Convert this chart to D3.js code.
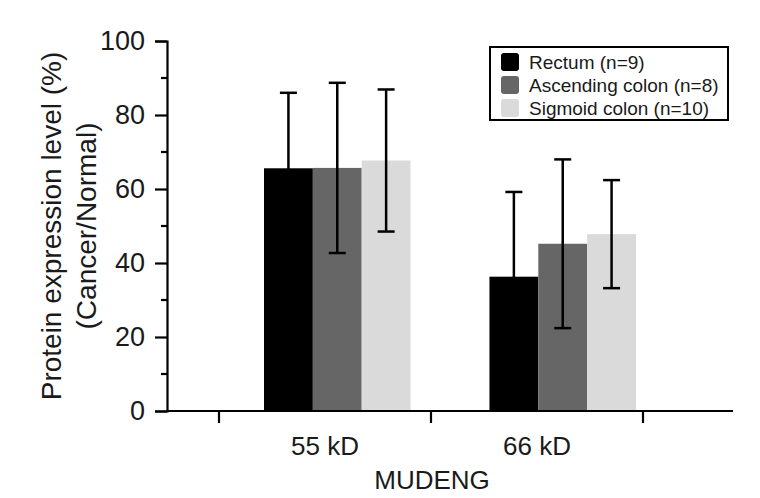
<!DOCTYPE html>
<html>
<head>
<meta charset="utf-8">
<script src="https://cdn.jsdelivr.net/npm/d3@7"></script>
<style>
  html, body { margin: 0; padding: 0; background: #fff; }
  svg { display: block; font-family: "Liberation Sans", Arial, sans-serif; }
</style>
</head>
<body>
<svg id="chart" width="760" height="498"></svg>
<script>
// ---- data ----
const categories = ["55 kD", "66 kD"];
const seriesNames = ["Rectum (n=9)", "Ascending colon (n=8)", "Sigmoid colon (n=10)"];
const seriesColors = ["#000000", "#666666", "#dadada"];
// mean values per category per series
const means55 = [65.6, 65.7, 67.7];
const means66 = [36.3, 45.2, 47.8];
// error (SD) per series
const err55 = [20.4, 23.0, 19.2];
const err66 = [22.9, 22.8, 14.6];
const yTicks = [0, 20, 40, 60, 80, 100];
const yMinorTicks = [10, 30, 50, 70, 90];
const xTitle = "MUDENG";
const yTitleLines = ["Protein expression level (%)", "(Cancer/Normal)"];

const table = [
  { cat: categories[0], means: means55, errs: err55 },
  { cat: categories[1], means: means66, errs: err66 }
];

// ---- layout ----
const svg = d3.select("#chart");
const axisX = 167, axisXEnd = 733;
const yScale = d3.scaleLinear().domain([0, 100]).range([411, 41]);
const y0 = yScale(0);

const xGroup = d3.scaleBand().domain(categories).range([264, 636]).paddingInner(0.35).paddingOuter(0);
const xSeries = d3.scaleBand().domain(seriesNames).range([0, xGroup.bandwidth()]).padding(0);
const xAxisBand = d3.scaleBand().domain(categories).range([219, 643]).padding(0);

const ink = "#1a1a1a";

// bars
const groups = svg.append("g").selectAll("g").data(table).join("g")
  .attr("transform", d => `translate(${xGroup(d.cat)},0)`);

groups.selectAll("rect").data(d => d.means.map((m, i) => ({ m, e: d.errs[i], s: seriesNames[i], c: seriesColors[i] })))
  .join("rect")
  .attr("x", d => xSeries(d.s))
  .attr("width", xSeries.bandwidth())
  .attr("y", d => yScale(d.m))
  .attr("height", d => y0 - yScale(d.m))
  .attr("fill", d => d.c);

// error bars
const capW = 17;
const eb = groups.selectAll("g.eb").data(d => d.means.map((m, i) => ({ m, e: d.errs[i], s: seriesNames[i] })))
  .join("g").attr("class", "eb")
  .attr("stroke", "#000").attr("stroke-width", 2.5);
const cx = d => xSeries(d.s) + xSeries.bandwidth() / 2;
eb.append("line")
  .attr("x1", cx).attr("x2", cx)
  .attr("y1", d => yScale(d.m + d.e))
  .attr("y2", d => yScale(d.m - d.e));
eb.append("line")
  .attr("x1", d => cx(d) - capW / 2).attr("x2", d => cx(d) + capW / 2)
  .attr("y1", d => yScale(d.m + d.e)).attr("y2", d => yScale(d.m + d.e));
eb.append("line")
  .attr("x1", d => cx(d) - capW / 2).attr("x2", d => cx(d) + capW / 2)
  .attr("y1", d => yScale(d.m - d.e)).attr("y2", d => yScale(d.m - d.e));

// y axis
const yAxisG = svg.append("g").attr("transform", `translate(${axisX},0)`)
  .call(d3.axisLeft(yScale).tickValues(yTicks).tickSize(12).tickPadding(10).tickFormat(d3.format("d")));
yAxisG.select(".domain").attr("stroke", "#000").attr("stroke-width", 2.2);
yAxisG.selectAll(".tick line").attr("stroke", "#000").attr("stroke-width", 2.2);
yAxisG.selectAll(".tick text").attr("font-size", 27).attr("fill", ink)
  .attr("font-family", "Liberation Sans, Arial, sans-serif");
yAxisG.append("g").selectAll("line").data(yMinorTicks).join("line")
  .attr("x1", -6).attr("x2", 0)
  .attr("y1", d => yScale(d)).attr("y2", d => yScale(d))
  .attr("stroke", "#000").attr("stroke-width", 2.2);

// x axis
const xAxisG = svg.append("g");
xAxisG.append("line").attr("x1", axisX - 1).attr("x2", axisXEnd).attr("y1", y0).attr("y2", y0)
  .attr("stroke", "#000").attr("stroke-width", 2.2);
const xBoundaries = categories.map(c => xAxisBand(c)).concat([xAxisBand(categories[categories.length - 1]) + xAxisBand.bandwidth()]);
xAxisG.selectAll("line.tk").data(xBoundaries).join("line").attr("class", "tk")
  .attr("x1", d => d).attr("x2", d => d).attr("y1", y0).attr("y2", y0 + 12)
  .attr("stroke", "#000").attr("stroke-width", 2.2);
xAxisG.selectAll("text").data(categories).join("text")
  .attr("x", d => xAxisBand(d) + xAxisBand.bandwidth() / 2)
  .attr("y", 455)
  .attr("text-anchor", "middle")
  .attr("font-size", 26).attr("fill", ink)
  .text(d => d);

// axis titles
svg.append("text").attr("x", 432).attr("y", 489).attr("text-anchor", "middle")
  .attr("font-size", 26).attr("fill", ink).text(xTitle);

const yMid = (yScale(0) + yScale(100)) / 2;
const yTitle = svg.append("text")
  .attr("transform", `translate(61,${yMid}) rotate(-90)`)
  .attr("text-anchor", "middle").attr("font-size", 28).attr("fill", ink);
yTitle.selectAll("tspan").data(yTitleLines).join("tspan")
  .attr("x", 0).attr("dy", (d, i) => i === 0 ? 0 : 35).text(d => d);

// legend
const lg = svg.append("g");
lg.append("rect").attr("x", 490).attr("y", 47).attr("width", 238).attr("height", 73)
  .attr("fill", "#fff").attr("stroke", "#000").attr("stroke-width", 2);
const legendY = d3.scalePoint().domain(seriesNames).range([62, 108]);
const li = lg.selectAll("g.li").data(seriesNames).join("g").attr("class", "li");
li.append("rect").attr("x", 501).attr("y", d => legendY(d) - 9).attr("width", 18).attr("height", 18)
  .attr("rx", 3).attr("fill", (d, i) => seriesColors[i]);
li.append("text").attr("x", 529).attr("y", d => legendY(d)).attr("dy", "0.35em")
  .attr("font-size", 19).attr("fill", ink).text(d => d);
</script>
</body>
</html>
